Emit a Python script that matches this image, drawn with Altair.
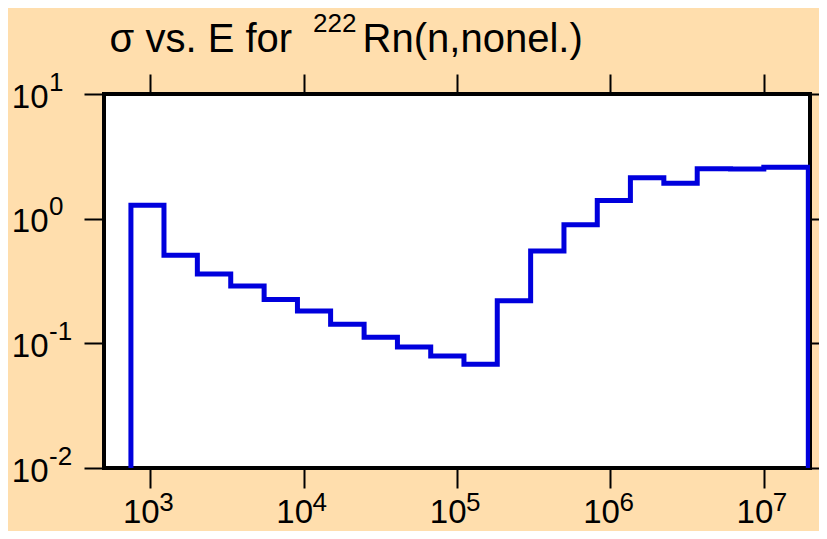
import altair as alt
import pandas as pd

# ---- data ----
edges = [749, 1230, 2030, 3350, 5530, 9120, 15000, 24800, 40900, 67400,
         111000, 183000, 302000, 498000, 821000, 1350000, 2230000, 3680000,
         6070000, 10000000, 19500000]
sigma = [1.28, 0.508, 0.360, 0.288, 0.225, 0.182, 0.142, 0.112, 0.0935, 0.079,
         0.0679, 0.220, 0.551, 0.895, 1.40, 2.13, 1.92, 2.52, 2.50, 2.58]
floor_value = 0.01

x_ticks = [1e3, 1e4, 1e5, 1e6, 1e7]
x_exp = ["3", "4", "5", "6", "7"]
y_ticks = [0.01, 0.1, 1, 10]
y_exp = ["-2", "-1", "0", "1"]

title_main = "σ vs. E for"
title_sup = "222"
title_rest = "Rn(n,nonel.)"

# ---- build step line table ----
xs = [edges[0]] + edges[:-1] + [edges[-1]]
ys = [floor_value] + sigma + [floor_value]
line_df = pd.DataFrame({"E": xs, "sig": ys, "i": list(range(len(xs)))})
xt_df = pd.DataFrame({"E": x_ticks, "exp": x_exp})
yt_df = pd.DataFrame({"s": y_ticks, "exp": y_exp})

FONT = "Liberation Sans"
W, H = 706, 374
BLUE = "#0000DD"
BG = "#FFDEAD"
LBL = 33
SUP = 26

xscale = alt.Scale(type="log", domain=[500, 2e7])
yscale = alt.Scale(type="log", domain=[0.01, 10])

tick_common = dict(tickSize=20, tickWidth=2, tickColor="black", domain=False,
                   grid=False, title=None)

x_bottom = alt.Axis(orient="bottom", values=x_ticks, labelExpr="'10'",
                    labelFontSize=LBL, labelFont=FONT, labelColor="black",
                    labelAlign="right", labelOffset=9, labelBaseline="alphabetic",
                    labelPadding=34.5, labelOverlap=False, labelFlush=False,
                    **tick_common)
x_top = alt.Axis(orient="top", values=x_ticks, labels=False, **tick_common)
y_left = alt.Axis(orient="left", values=y_ticks, labelExpr="'10'",
                  labelFontSize=LBL, labelFont=FONT, labelColor="black",
                  labelAlign="right", labelBaseline="alphabetic", labelOffset=13,
                  labelPadding=36, labelOverlap=False, labelFlush=False,
                  **tick_common)
y_right = alt.Axis(orient="right", values=y_ticks, labels=False, **tick_common)

line = alt.Chart(line_df).mark_line(
    interpolate="step-after", color=BLUE, strokeWidth=5, clip=True
).encode(
    x=alt.X("E:Q", scale=xscale, axis=x_bottom),
    y=alt.Y("sig:Q", scale=yscale, axis=y_left),
    order=alt.Order("i:Q"),
)

top_axis = alt.Chart(xt_df).mark_point(opacity=0).encode(
    x=alt.X("E:Q", scale=xscale, axis=x_top)
)
right_axis = alt.Chart(yt_df).mark_point(opacity=0).encode(
    y=alt.Y("s:Q", scale=yscale, axis=y_right)
)

x_sup = alt.Chart(xt_df).mark_text(
    font=FONT, fontSize=SUP, color="black", align="left", baseline="alphabetic", dx=9
).encode(
    x=alt.X("E:Q", scale=xscale, axis=None),
    y=alt.value(H + 42.5),
    text="exp:N",
)
y_sup = alt.Chart(yt_df).mark_text(
    font=FONT, fontSize=SUP, color="black", align="left", baseline="alphabetic", dy=-3.5
).encode(
    y=alt.Y("s:Q", scale=yscale, axis=None),
    x=alt.value(-55),
    text="exp:N",
)

one = alt.Data(values=[{}])
t1 = alt.Chart(one).mark_text(font=FONT, fontSize=40, color="black", align="left",
                              baseline="alphabetic").encode(
    x=alt.value(5.6), y=alt.value(-42.5), text=alt.value(title_main))
t2 = alt.Chart(one).mark_text(font=FONT, fontSize=26, color="black", align="left",
                              baseline="alphabetic").encode(
    x=alt.value(209), y=alt.value(-62), text=alt.value(title_sup))
t3 = alt.Chart(one).mark_text(font=FONT, fontSize=40, color="black", align="left",
                              baseline="alphabetic").encode(
    x=alt.value(258.6), y=alt.value(-42.5), text=alt.value(title_rest))

chart = alt.layer(line, top_axis, right_axis, x_sup, y_sup, t1, t2, t3).resolve_axis(
    x="independent", y="independent"
).properties(
    width=W, height=H,
    autosize=alt.AutoSizeParams(type="none"),
    padding={"left": 96, "top": 86, "right": 9, "bottom": 63},
    background=BG,
).configure_view(
    stroke="black", strokeWidth=4, fill="white"
)

chart.save("out.html", embed_options={"renderer": "svg", "actions": False})
